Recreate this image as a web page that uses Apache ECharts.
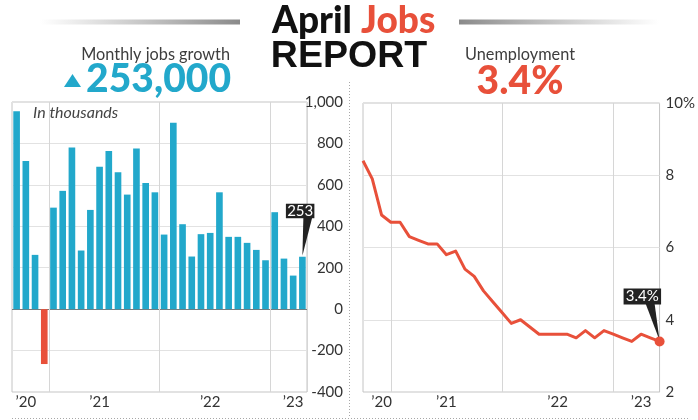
<!DOCTYPE html>
<html>
<head>
<meta charset="utf-8">
<script src="https://cdn.jsdelivr.net/npm/echarts@6/dist/echarts.min.js"></script>
<style>
  html, body { margin: 0; padding: 0; background: #fff; }
  #chart { width: 698px; height: 420px; }
</style>
</head>
<body>
<div id="chart"></div>
<script>
// Monthly payroll change (thousands), Sep 2020 – Apr 2023
const jobMonths = [
  'Sep 2020','Oct 2020','Nov 2020','Dec 2020',
  'Jan 2021','Feb 2021','Mar 2021','Apr 2021','May 2021','Jun 2021',
  'Jul 2021','Aug 2021','Sep 2021','Oct 2021','Nov 2021','Dec 2021',
  'Jan 2022','Feb 2022','Mar 2022','Apr 2022','May 2022','Jun 2022',
  'Jul 2022','Aug 2022','Sep 2022','Oct 2022','Nov 2022','Dec 2022',
  'Jan 2023','Feb 2023','Mar 2023','Apr 2023'
];
const jobGains = [
  955, 715, 262, -265,
  490, 571, 780, 283, 479, 688,
  764, 661, 553, 775, 609, 564,
  360, 900, 410, 254, 362, 368,
  564, 349, 349, 320, 286, 236,
  468, 244, 162, 253
];

// Unemployment rate (%), Aug 2020 – Apr 2023
const rateMonths = [
  'Aug 2020','Sep 2020','Oct 2020','Nov 2020','Dec 2020',
  'Jan 2021','Feb 2021','Mar 2021','Apr 2021','May 2021','Jun 2021',
  'Jul 2021','Aug 2021','Sep 2021','Oct 2021','Nov 2021','Dec 2021',
  'Jan 2022','Feb 2022','Mar 2022','Apr 2022','May 2022','Jun 2022',
  'Jul 2022','Aug 2022','Sep 2022','Oct 2022','Nov 2022','Dec 2022',
  'Jan 2023','Feb 2023','Mar 2023','Apr 2023'
];
const unemploymentRate = [
  8.4, 7.9, 6.9, 6.7, 6.7,
  6.3, 6.2, 6.1, 6.1, 5.8, 5.9,
  5.4, 5.2, 4.8, 4.5, 4.2, 3.9,
  4.0, 3.8, 3.6, 3.6, 3.6, 3.6,
  3.5, 3.7, 3.5, 3.7, 3.6, 3.5,
  3.4, 3.6, 3.5, 3.4
];

// Where the year labels and year dividers sit on each x axis
const jobYearLabelMonths = ['Oct 2020', 'Jun 2021', 'Jun 2022', 'Mar 2023'];
const jobDividerMonths = ['Jan 2021', 'Jan 2022', 'Jan 2023'];
const rateYearLabelMonths = ['Oct 2020', 'May 2021', 'May 2022', 'Feb 2023'];
const rateDividerMonths = ['Nov 2020', 'Nov 2021', 'Nov 2022'];

// Value axis ticks
const jobTicks = [-400, -200, 0, 200, 400, 600, 800, 1000];
const rateTicks = [2, 4, 6, 8, 10];

const TEAL = '#22a8cb';
const RED = '#e8503a';
const GRID_LINE = '#e2e2e2';
const BORDER = '#c4c4c4';
const LABEL = '#333';
const FONT = 'Lato, "Noto Sans", sans-serif';

const yearLabel = v => '\u2019' + v.slice(-2);
const latest = jobGains[jobGains.length - 1];
const latestRate = unemploymentRate[unemploymentRate.length - 1];

const chart = echarts.init(document.getElementById('chart'), null, { renderer: 'canvas' });

const option = {
  backgroundColor: '#fff',
  animation: false,
  grid: [
    { left: 12, top: 102, width: 295, height: 290, show: true, borderColor: BORDER, borderWidth: 1, backgroundColor: 'transparent' },
    { left: 363, top: 103, width: 299, height: 289, show: true, borderColor: BORDER, borderWidth: 1, backgroundColor: 'transparent' }
  ],
  xAxis: [
    {
      type: 'category', gridIndex: 0, data: jobMonths, boundaryGap: true,
      axisLine: { show: false }, axisTick: { show: false },
      axisLabel: {
        interval: (i, v) => jobYearLabelMonths.includes(v),
        formatter: yearLabel,
        color: LABEL, fontFamily: FONT, fontSize: 15, margin: 3
      },
      splitLine: {
        show: true,
        interval: (i, v) => jobDividerMonths.includes(v),
        lineStyle: { color: '#d6d6d6', width: 1 }
      }
    },
    {
      type: 'category', gridIndex: 1, data: rateMonths, boundaryGap: false,
      axisLine: { show: false }, axisTick: { show: false },
      axisLabel: {
        interval: (i, v) => rateYearLabelMonths.includes(v),
        formatter: yearLabel,
        color: LABEL, fontFamily: FONT, fontSize: 15, margin: 3
      },
      splitLine: {
        show: true,
        interval: (i, v) => rateDividerMonths.includes(v),
        lineStyle: { color: '#d6d6d6', width: 1 }
      }
    }
  ],
  yAxis: [
    {
      type: 'value', gridIndex: 0, position: 'right',
      min: jobTicks[0], max: jobTicks[jobTicks.length - 1], interval: 200,
      axisLine: { show: false }, axisTick: { show: false },
      axisLabel: {
        color: LABEL, fontFamily: FONT, fontSize: 15, align: 'right', margin: 36,
        formatter: v => v.toLocaleString('en-US')
      },
      splitLine: {
        show: true,
        lineStyle: { color: jobTicks.map(t => (t === 0 ? '#7a7a7a' : GRID_LINE)), width: 1 }
      }
    },
    {
      type: 'value', gridIndex: 1, position: 'right',
      min: rateTicks[0], max: rateTicks[rateTicks.length - 1], interval: 2,
      axisLine: { show: false }, axisTick: { show: false },
      axisLabel: {
        color: LABEL, fontFamily: FONT, fontSize: 15, align: 'left', margin: 6,
        formatter: v => (v === rateTicks[rateTicks.length - 1] ? v + '%' : String(v))
      },
      splitLine: { show: true, lineStyle: { color: GRID_LINE, width: 1 } }
    }
  ],
  series: [
    {
      type: 'bar', xAxisIndex: 0, yAxisIndex: 0,
      barWidth: '72%',
      data: jobGains.map(v => ({ value: v, itemStyle: { color: v < 0 ? RED : TEAL } })),
      z: 3
    },
    {
      // Callout on the latest month
      type: 'custom', xAxisIndex: 0, yAxisIndex: 0, clip: false, z: 5,
      data: [[jobGains.length - 1, latest]],
      encode: { x: 0, y: 1 },
      renderItem: (params, api) => {
        const p = api.coord([api.value(0), api.value(1)]);
        return {
          type: 'group',
          children: [
            { type: 'polygon', shape: { points: [[p[0] + 1, p[1] - 40], [p[0] + 10, p[1] - 40], [p[0], p[1] - 1]] }, style: { fill: '#222' } },
            { type: 'rect', shape: { x: p[0] - 16.5, y: p[1] - 53, width: 28.5, height: 14.5 }, style: { fill: '#222' } },
            { type: 'text', style: { text: String(api.value(1)), x: p[0] - 2.2, y: p[1] - 45.5, align: 'center', verticalAlign: 'middle', fill: '#fff', fontFamily: FONT, fontSize: 15 } }
          ]
        };
      }
    },
    {
      type: 'line', xAxisIndex: 1, yAxisIndex: 1,
      data: unemploymentRate,
      symbol: 'none',
      lineStyle: { color: RED, width: 3, join: 'round' },
      z: 3
    },
    {
      type: 'custom', xAxisIndex: 1, yAxisIndex: 1, clip: false, z: 5,
      data: [[unemploymentRate.length - 1, latestRate]],
      encode: { x: 0, y: 1 },
      renderItem: (params, api) => {
        const p = api.coord([api.value(0), api.value(1)]);
        return {
          type: 'group',
          children: [
            { type: 'polygon', shape: { points: [[p[0] - 14, p[1] - 38], [p[0] - 5, p[1] - 38], [p[0], p[1] - 1]] }, style: { fill: '#222' } },
            { type: 'rect', shape: { x: p[0] - 36, y: p[1] - 53, width: 37.5, height: 16 }, style: { fill: '#222' } },
            { type: 'text', style: { text: api.value(1) + '%', x: p[0] - 17.3, y: p[1] - 45, align: 'center', verticalAlign: 'middle', fill: '#fff', fontFamily: FONT, fontSize: 15 } },
            { type: 'circle', shape: { cx: p[0], cy: p[1], r: 5 }, style: { fill: RED } }
          ]
        };
      }
    }
  ],
  graphic: [
    // Title rules
    {
      type: 'rect', shape: { x: 40, y: 19.5, width: 200, height: 5 },
      style: { fill: new echarts.graphic.LinearGradient(0, 0, 1, 0, [
        { offset: 0, color: 'rgba(150,150,150,0)' },
        { offset: 1, color: '#8a8a8a' }
      ]) }
    },
    {
      type: 'rect', shape: { x: 459, y: 19.5, width: 200, height: 5 },
      style: { fill: new echarts.graphic.LinearGradient(0, 0, 1, 0, [
        { offset: 0, color: '#8a8a8a' },
        { offset: 1, color: 'rgba(150,150,150,0)' }
      ]) }
    },
    // Title
    { type: 'text', style: { text: 'April', x: 352, y: 21, align: 'right', verticalAlign: 'middle', fill: '#111', fontFamily: FONT, fontWeight: 900, fontSize: 37 } },
    { type: 'text', style: { text: 'Jobs', x: 361, y: 21, align: 'left', verticalAlign: 'middle', fill: RED, fontFamily: FONT, fontWeight: 900, fontSize: 37 } },
    { type: 'text', style: { text: 'REPORT', x: 349, y: 57, align: 'center', verticalAlign: 'middle', fill: '#111', fontFamily: '"Liberation Sans", Arial, sans-serif', fontWeight: 'bold', fontSize: 37.5 } },
    // Left headline
    { type: 'text', style: { text: 'Monthly jobs growth', x: 230, y: 55, align: 'right', verticalAlign: 'middle', fill: '#3d3d3d', fontFamily: FONT, fontSize: 16.3 } },
    { type: 'polygon', shape: { points: [[64, 87], [81, 87], [72.5, 74]] }, style: { fill: TEAL } },
    { type: 'text', style: { text: (latest * 1000).toLocaleString('en-US'), x: 231, y: 79, align: 'right', verticalAlign: 'middle', fill: TEAL, fontFamily: FONT, fontWeight: 900, fontSize: 39 } },
    // Right headline
    { type: 'text', style: { text: 'Unemployment', x: 520, y: 55, align: 'center', verticalAlign: 'middle', fill: '#3d3d3d', fontFamily: FONT, fontSize: 16.3 } },
    { type: 'text', style: { text: latestRate + '%', x: 520, y: 81.5, align: 'center', verticalAlign: 'middle', fill: RED, fontFamily: FONT, fontWeight: 900, fontSize: 39 } },
    // Units note
    { type: 'text', style: { text: 'In thousands', x: 33, y: 113, align: 'left', verticalAlign: 'middle', fill: '#444', fontFamily: FONT, fontStyle: 'italic', fontSize: 16 } },
    // Dotted panel dividers
    { type: 'line', shape: { x1: 349.5, y1: 82, x2: 349.5, y2: 418 }, style: { stroke: '#a8a8a8', lineWidth: 1, lineDash: [1, 2] } },
    { type: 'line', shape: { x1: 12, y1: 418.5, x2: 688, y2: 418.5 }, style: { stroke: '#a8a8a8', lineWidth: 1, lineDash: [1, 2] } }
  ]
};

chart.setOption(option);
</script>
</body>
</html>
